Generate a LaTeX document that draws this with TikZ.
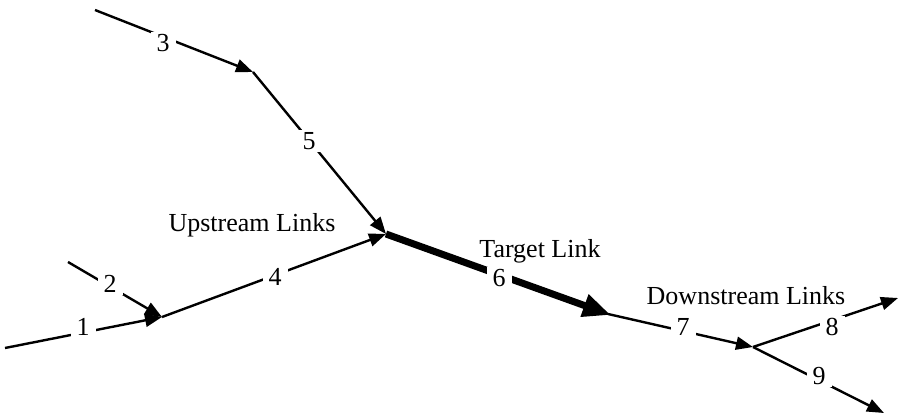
\documentclass[tikz,border=0pt]{standalone}
\usepackage{fontspec}
\setmainfont{Liberation Serif}
\usetikzlibrary{arrows.meta}
\tikzset{
  link/.style={line width=2.4pt, -{Triangle[length=17pt,width=13pt]}},
  target/.style={line width=7pt, -{Triangle[length=28pt,width=22pt]}, shorten >=-3pt},
  num/.style={fill=white, inner xsep=6pt, inner ysep=2pt, font=\fontsize{26}{28}\selectfont},
  caption/.style={font=\fontsize{26}{28}\selectfont, inner sep=0pt}
}
\begin{document}
\begin{tikzpicture}[x=1pt,y=-1pt]
  \useasboundingbox (0,0) rectangle (903,413);
  % junctions and free ends of the links
  \coordinate (s3) at (95,10);
  \coordinate (j35) at (253,72);
  \coordinate (s2) at (68,262);
  \coordinate (s1) at (5,348);
  \coordinate (j124) at (162,317);
  \coordinate (j456) at (386,234);
  \coordinate (j67) at (608,314);
  \coordinate (j789) at (753,347);
  \coordinate (e8) at (898,298);
  \coordinate (e9) at (884,413);

  % upstream links
  \draw[link] (s3) -- (j35);
  \draw[link] (j35) -- (j456);
  \draw[link] (s2) -- (j124);
  \draw[link] (s1) -- (j124);
  \draw[link] (j124) -- (j456);

  % target link
  \draw[target] (j456) -- (j67);

  % downstream links
  \draw[link] (j67) -- (j789);
  \draw[link] (j789) -- (e8);
  \draw[link] (j789) -- (e9);

  % link numbers, each cutting a gap in its link
  \node[num] (n1) at (83,327) {1};
  \node[num] (n2) at (110,284) {2};
  \node[num] (n3) at (163,43) {3};
  \node[num] (n4) at (275,277) {4};
  \node[num] (n5) at (309,141) {5};
  \node[num] (n6) at (499,278) {6};
  \node[num] (n7) at (683,327) {7};
  \node[num] (n8) at (832,327) {8};
  \node[num] (n9) at (819,376) {9};

  % group captions
  \node[caption] (up) at (252,225) {Upstream Links};
  \node[caption] (tg) at (540,251) {Target Link};
  \node[caption] (down) at (746,296) {Downstream Links};
\end{tikzpicture}
\end{document}
